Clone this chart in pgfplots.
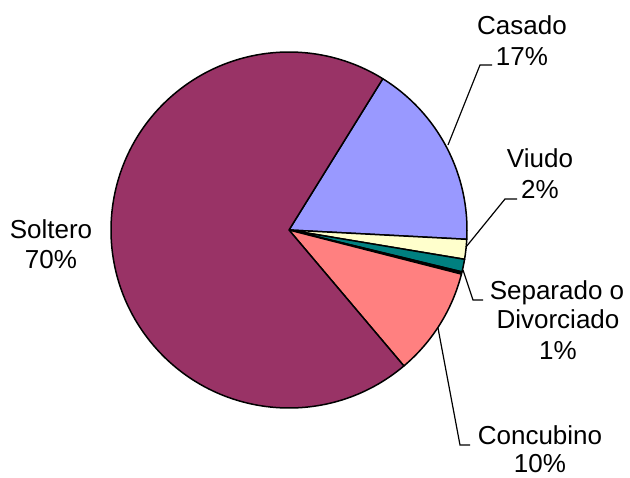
\documentclass[border=0pt]{standalone}
\usepackage{pgfplots}
\usepackage{pgfplotstable}
\pgfplotsset{compat=1.18}
\usepackage{fontspec}
\setmainfont{Liberation Sans}
\definecolor{soltero}{HTML}{993366}
\definecolor{casado}{HTML}{9999FF}
\definecolor{viudo}{HTML}{FFFFCC}
\definecolor{separado}{HTML}{008080}
\definecolor{concubino}{HTML}{FF8080}
\pgfplotstableread{
label pct col
Casado 17.0 casado
Viudo 1.8 viudo
Separado 1.15 separado
Otro 0.2 black
Concubino 9.85 concubino
Soltero 70.0 soltero
}\piedata
\begin{document}
\begin{tikzpicture}
\begin{axis}[
  scale only axis, width=630pt, height=478pt,
  xmin=0, xmax=630, ymin=0, ymax=478, y dir=reverse,
  hide axis, clip=false,
]
\path (axis cs:0,0) rectangle (axis cs:630,478);
\def\startang{58.2}
\pgfplotsforeachungrouped \i in {0,...,5}{%
  \pgfplotstablegetelem{\i}{pct}\of\piedata \let\p\pgfplotsretval
  \pgfplotstablegetelem{\i}{col}\of\piedata \let\c\pgfplotsretval
  \pgfmathsetmacro\endang{\startang - 3.6*\p}%
  \edef\temp{\noexpand\filldraw[fill=\c, draw=black, line width=1.5pt, line join=round]
    (axis cs:289,230) -- ++(\startang:178pt) arc[start angle=\startang, end angle=\endang, radius=178pt] -- cycle;}%
  \temp
  \let\startang\endang
}
% leader lines
\draw[line width=1.2pt] (axis cs:492,65) -- (axis cs:480,65) -- (axis cs:448,145);
\draw[line width=1.2pt] (axis cs:517,199) -- (axis cs:505,199) -- (axis cs:466,247);
\draw[line width=1.2pt] (axis cs:483,300) -- (axis cs:473,300) -- (axis cs:463,270);
\draw[line width=1.2pt] (axis cs:470,445) -- (axis cs:460,445) -- (axis cs:438,328);
% labels
\tikzset{lbl/.style={anchor=base, inner sep=0pt, font=\fontsize{26}{30}\selectfont}}
\node[lbl] at (axis cs:51,239) {Soltero};
\node[lbl] at (axis cs:51,269) {70\%};
\node[lbl] at (axis cs:522,35) {Casado};
\node[lbl] at (axis cs:522,66) {17\%};
\node[lbl] at (axis cs:540,168) {Viudo};
\node[lbl] at (axis cs:540,199) {2\%};
\node[lbl] at (axis cs:557,300) {Separado o};
\node[lbl] at (axis cs:558,329) {Divorciado};
\node[lbl] at (axis cs:558,360) {1\%};
\node[lbl] at (axis cs:540,445) {Concubino};
\node[lbl] at (axis cs:540,473) {10\%};
\end{axis}
\end{tikzpicture}
\end{document}
